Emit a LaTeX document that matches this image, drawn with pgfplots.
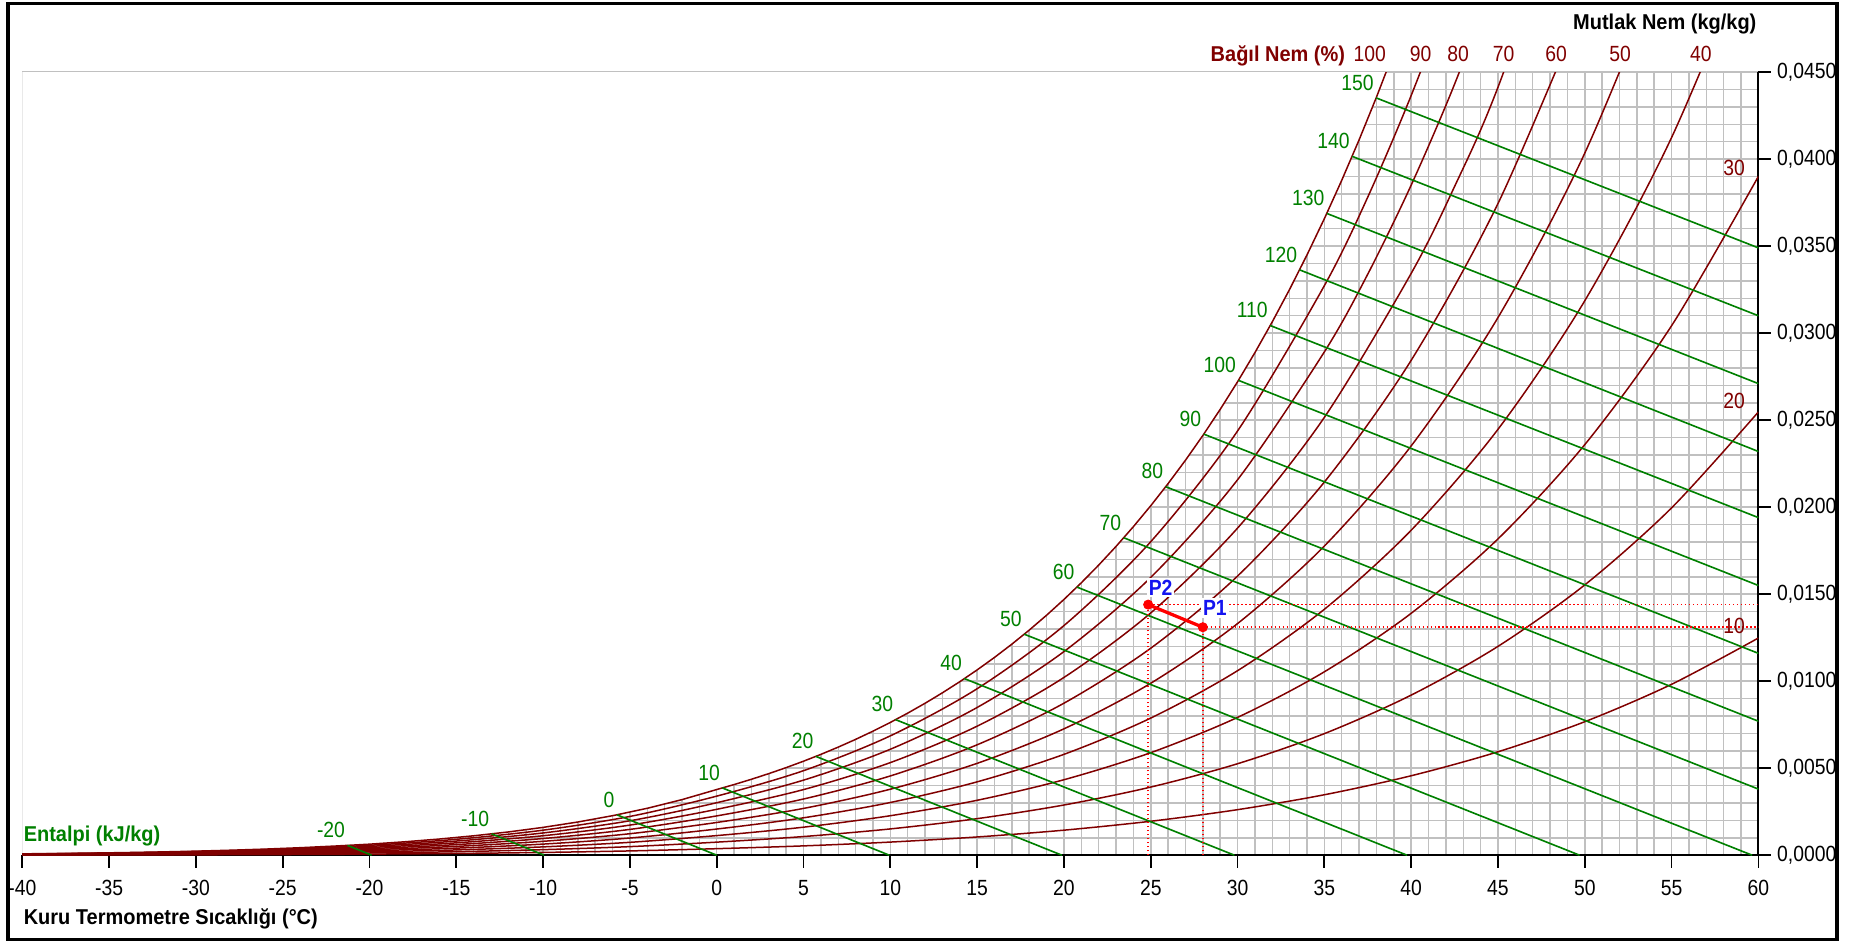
\documentclass[border=0pt]{standalone}
\usepackage{fontspec}
\setmainfont{Liberation Sans}
\newfontfamily\cf{Liberation Sans}[FakeStretch=0.88]
\newfontfamily\lbf{Liberation Sans}[FakeStretch=0.93]
\usepackage{pgfplots}
\usepackage{pgfplotstable}
\pgfplotsset{compat=1.18}
\definecolor{dred}{RGB}{128,0,0}
\definecolor{dgreen}{RGB}{0,128,0}
\definecolor{gridc}{RGB}{192,192,192}
\definecolor{pblue}{RGB}{20,20,240}

\pgfplotstableread{
t w
-40 0.0000789
-38 0.0000986
-36 0.0001227
-34 0.0001523
-32 0.0001885
-30 0.0002335
-28 0.0002870
-26 0.0003521
-24 0.0004311
-22 0.0005262
-20 0.0006344
-18 0.0007696
-16 0.0009284
-14 0.0011160
-12 0.0013369
-10 0.0015995
-8 0.0019087
-6 0.0022705
-4 0.0026971
-2 0.0031944
0 0.0037747
1 0.0040600
2 0.0043643
3 0.0046888
4 0.0050342
5 0.0054025
6 0.0057950
7 0.0062124
8 0.0066567
9 0.0071286
10 0.0076308
11 0.0081646
12 0.0087309
13 0.0093331
14 0.0099712
15 0.0106487
16 0.011367
17 0.012129
18 0.012936
19 0.013791
20 0.014697
21 0.015656
22 0.016671
23 0.017745
24 0.018881
25 0.020083
26 0.021355
27 0.022698
28 0.024119
29 0.025620
30 0.027206
31 0.028882
32 0.030651
33 0.032521
34 0.034496
35 0.036580
36 0.038782
37 0.041106
38 0.043559
39 0.046151
40 0.048889
}\sat

\pgfplotstableread{
t w
-40 0.0000789
-38 0.0000986
-36 0.0001227
-34 0.0001523
-32 0.0001885
-30 0.0002335
-28 0.0002870
-26 0.0003521
-24 0.0004311
-22 0.0005262
-20 0.0006344
-18 0.0007696
-16 0.0009284
-14 0.0011160
-12 0.0013369
-10 0.0015995
-8 0.0019087
-6 0.0022705
-4 0.0026971
-2 0.0031944
0 0.0037747
1 0.0040600
2 0.0043643
3 0.0046888
4 0.0050342
5 0.0054025
6 0.0057950
7 0.0062124
8 0.0066567
9 0.0071286
10 0.0076308
11 0.0081646
12 0.0087309
13 0.0093331
14 0.0099712
15 0.0106487
16 0.011367
17 0.012129
18 0.012936
19 0.013791
20 0.014697
21 0.015656
22 0.016671
23 0.017745
24 0.018881
25 0.020083
26 0.021355
27 0.022698
28 0.024119
29 0.025620
30 0.027206
31 0.028882
32 0.030651
33 0.032521
34 0.034496
35 0.036580
36 0.038782
37 0.041106
38 0.043559
39 0.046151
40 0.048889
40 0.060000
-40 0.060000
}\satfill

\pgfplotstableread{
t r90 r80 r70 r60 r50 r40 r30 r20 r10
-40 0.0000710 0.0000631 0.0000552 0.0000473 0.0000394 0.0000316 0.0000237 0.0000158 0.0000079
-35 0.0001234 0.0001097 0.0000960 0.0000823 0.0000686 0.0000548 0.0000411 0.0000274 0.0000137
-30 0.0002101 0.0001868 0.0001634 0.0001401 0.0001167 0.0000934 0.0000700 0.0000467 0.0000233
-25 0.0003499 0.0003110 0.0002721 0.0002333 0.0001944 0.0001555 0.0001166 0.0000778 0.0000389
-20 0.0005709 0.0005075 0.0004440 0.0003806 0.0003171 0.0002537 0.0001903 0.0001268 0.0000634
-15 0.0009146 0.0008130 0.0007114 0.0006097 0.0005081 0.0004065 0.0003048 0.0002032 0.0001016
-10 0.0014393 0.0012792 0.0011190 0.0009589 0.0007988 0.0006388 0.0004790 0.0003192 0.0001596
-5 0.0022276 0.0019793 0.0017312 0.0014833 0.0012356 0.0009881 0.0007408 0.0004936 0.0002467
0 0.0033952 0.0030161 0.0026375 0.0022594 0.0018817 0.0015044 0.0011276 0.0007513 0.0003754
5 0.0048580 0.0043145 0.0037719 0.0032303 0.0026896 0.0021498 0.0016110 0.0010730 0.0005361
10 0.0068593 0.0060897 0.0053219 0.0045561 0.0037921 0.0030300 0.0022697 0.0015113 0.0007547
15 0.0095675 0.0084899 0.0074160 0.0063458 0.0052792 0.0042162 0.0031568 0.0021010 0.0010487
20 0.013196 0.011702 0.010216 0.0087356 0.0072627 0.0057966 0.0043374 0.0028849 0.0014391
25 0.018017 0.015964 0.013924 0.011896 0.0098822 0.0078807 0.0058919 0.0039155 0.0019516
30 0.024379 0.021576 0.018798 0.016043 0.013312 0.010604 0.0079194 0.0052573 0.0026175
35 0.032730 0.028924 0.025162 0.021444 0.017768 0.014133 0.010540 0.0069873 0.0034741
37.5 0.037819 0.033391 nan nan nan nan nan nan nan
40 0.043657 0.038506 0.033434 0.028439 0.023520 0.018675 0.013902 0.0091994 0.0045659
42.5 0.050295 0.044308 0.038428 nan nan nan nan nan nan
45 0.057915 0.050953 0.044132 0.037448 0.030896 0.024474 0.018177 0.012001 0.0059431
50 nan nan 0.057988 0.049051 0.040345 0.031863 0.023595 0.015534 0.0076710
55 nan nan nan nan 0.052423 0.041243 0.030428 0.019960 0.0098223
60 nan nan nan nan nan 0.053122 0.039009 0.025473 0.012481
}\rh

\newcommand{\lf}{\cf\fontsize{8.8}{10}\selectfont}
\newcommand{\bfl}{\lbf\bfseries\fontsize{8.6}{10}\selectfont}
\newcommand{\pbf}{\cf\bfseries\fontsize{8.8}{10}\selectfont}

\begin{document}
\begin{tikzpicture}
\begin{axis}[name=ax, scale only axis, width=695.0pt, height=313.5pt,
  xmin=-40, xmax=60, ymin=0, ymax=0.045,
  axis x line=bottom, axis y line=right,
  axis line style={-, line width=0.8pt, black},
  xtick={-40,-35,-30,-25,-20,-15,-10,-5,0,5,10,15,20,25,30,35,40,45,50,55,60},
  ytick={0,0.005,0.01,0.015,0.02,0.025,0.03,0.035,0.04,0.045},
  minor x tick num=4, minor y tick num=4, grid=both,
  major grid style={gridc, line width=0.6pt},
  minor grid style={gridc, line width=0.6pt},
  tick align=outside, major tick length=5pt, minor tick length=0pt,
  tick style={black, line width=0.7pt},
  scaled y ticks=false,
  /pgf/number format/assume math mode=true,
  yticklabel style={/pgf/number format/fixed, /pgf/number format/fixed zerofill,
    /pgf/number format/precision=4, /pgf/number format/use comma, xshift=-1pt},
  xticklabel style={yshift=-1.5pt},
  tick label style={font=\lf},
]
\addplot[fill=white, draw=none] table[x=t, y=w] {\satfill};
\addplot[dred, line width=0.6pt] table[x=t, y=w] {\sat};
\pgfplotsinvokeforeach{r90,r80,r70,r60,r50,r40,r30,r20,r10}{
  \addplot[dred, line width=0.6pt, smooth] table[x=t, y=#1] {\rh};
}
% enthalpy lines
\addplot[dgreen, line width=0.65pt] coordinates {(-21.27,0.000566) (-19.88,0)};
\addplot[dgreen, line width=0.65pt] coordinates {(-12.97,0.001230) (-9.94,0)};
\addplot[dgreen, line width=0.65pt] coordinates {(-5.75,0.002323) (0,0)};
\addplot[dgreen, line width=0.65pt] coordinates {(0.32,0.003867) (9.94,0)};
\addplot[dgreen, line width=0.65pt] coordinates {(5.71,0.005679) (19.88,0)};
\addplot[dgreen, line width=0.65pt] coordinates {(10.30,0.007791) (29.82,0)};
\addplot[dgreen, line width=0.65pt] coordinates {(14.26,0.010150) (39.76,0)};
\addplot[dgreen, line width=0.65pt] coordinates {(17.71,0.012702) (49.70,0)};
\addplot[dgreen, line width=0.65pt] coordinates {(20.74,0.015411) (59.64,0)};
\addplot[dgreen, line width=0.65pt] coordinates {(23.44,0.018243) (60,0.0038)};
\addplot[dgreen, line width=0.65pt] coordinates {(25.86,0.021177) (60,0.0077)};
\addplot[dgreen, line width=0.65pt] coordinates {(28.05,0.024199) (60,0.0116)};
\addplot[dgreen, line width=0.65pt] coordinates {(30.05,0.027288) (60,0.0155)};
\addplot[dgreen, line width=0.65pt] coordinates {(31.88,0.030439) (60,0.0194)};
\addplot[dgreen, line width=0.65pt] coordinates {(33.57,0.033639) (60,0.0232)};
\addplot[dgreen, line width=0.65pt] coordinates {(35.14,0.036880) (60,0.0271)};
\addplot[dgreen, line width=0.65pt] coordinates {(36.60,0.040160) (60,0.0310)};
\addplot[dgreen, line width=0.65pt] coordinates {(37.98,0.043520) (60,0.0349)};
% process
\addplot[red, densely dotted, line width=0.6pt] coordinates {(28,0) (28,0.0131) (60,0.0131)};
\addplot[red, densely dotted, line width=0.6pt] coordinates {(24.85,0) (24.85,0.0144) (60,0.0144)};
\addplot[red, line width=1.3pt] coordinates {(28,0.0131) (24.85,0.0144)};
\addplot[red, only marks, mark=*, mark size=1.8pt] coordinates {(28,0.0131) (24.85,0.0144)};
% enthalpy labels
\begin{scope}[every node/.style={dgreen, anchor=south east, inner sep=0pt, font=\lf, xshift=-0.8pt, yshift=2.8pt}]
\node at (axis cs:-21.27,0.000566) {-20};
\node at (axis cs:-12.97,0.001230) {-10};
\node at (axis cs:-5.75,0.002323) {0};
\node at (axis cs:0.32,0.003867) {10};
\node at (axis cs:5.71,0.005679) {20};
\node at (axis cs:10.30,0.007791) {30};
\node at (axis cs:14.26,0.010150) {40};
\node at (axis cs:17.71,0.012702) {50};
\node at (axis cs:20.74,0.015411) {60};
\node at (axis cs:23.44,0.018243) {70};
\node at (axis cs:25.86,0.021177) {80};
\node at (axis cs:28.05,0.024199) {90};
\node at (axis cs:30.05,0.027288) {100};
\node at (axis cs:31.88,0.030439) {110};
\node at (axis cs:33.57,0.033639) {120};
\node at (axis cs:35.14,0.036880) {130};
\node at (axis cs:36.60,0.040160) {140};
\node at (axis cs:37.98,0.043520) {150};
\end{scope}
\node[dred, font=\lf] at (axis cs:58.6,0.0395) {30};
\node[dred, font=\lf] at (axis cs:58.6,0.0261) {20};
\node[dred, font=\lf] at (axis cs:58.6,0.0132) {10};
\node[pblue, fill=white, inner sep=0.8pt, font=\pbf, xshift=5pt, yshift=6.9pt] at (axis cs:24.85,0.0144) {P2};
\node[pblue, fill=white, inner sep=0.8pt, font=\pbf, xshift=4.8pt, yshift=7.7pt] at (axis cs:28,0.0131) {P1};
\coordinate (l100) at (axis cs:37.62,0.045);
\coordinate (l90) at (axis cs:40.55,0.045);
\coordinate (l80) at (axis cs:42.71,0.045);
\coordinate (l70) at (axis cs:45.32,0.045);
\coordinate (l60) at (axis cs:48.35,0.045);
\coordinate (l50) at (axis cs:52.04,0.045);
\coordinate (l40) at (axis cs:56.69,0.045);
\coordinate (lbn) at (axis cs:36.22,0.045);
\end{axis}
\foreach \n in {100,90,80,70,60,50,40} {
  \node[dred, anchor=base, inner sep=0pt, yshift=4.4pt, font=\lf] at (l\n) {\n};
}
\node[dred, anchor=base east, inner sep=0pt, yshift=4.4pt, font=\bfl] at (lbn) {Bağıl Nem (\%)};
\node[anchor=base east, inner sep=0pt, xshift=-0.6pt, yshift=17.2pt, font=\bfl] at (ax.north east) {Mutlak Nem (kg/kg)};
\node[anchor=base west, inner sep=0pt, xshift=0.4pt, yshift=-27.6pt, font=\bfl] at (ax.south west) {Kuru Termometre Sıcaklığı (°C)};
\node[dgreen, anchor=base west, inner sep=0pt, xshift=0.4pt, yshift=5.5pt, font=\bfl] at (ax.south west) {Entalpi (kJ/kg)};
\draw[line width=1.4pt] ([shift={(-5.8pt,-33.7pt)}]ax.south west) rectangle ([shift={(31.5pt,27.4pt)}]ax.north east);
\path ([shift={(-8.28pt,-35.2pt)}]ax.south west) rectangle ([shift={(37.08pt,28.88pt)}]ax.north east);
\end{tikzpicture}
\end{document}
